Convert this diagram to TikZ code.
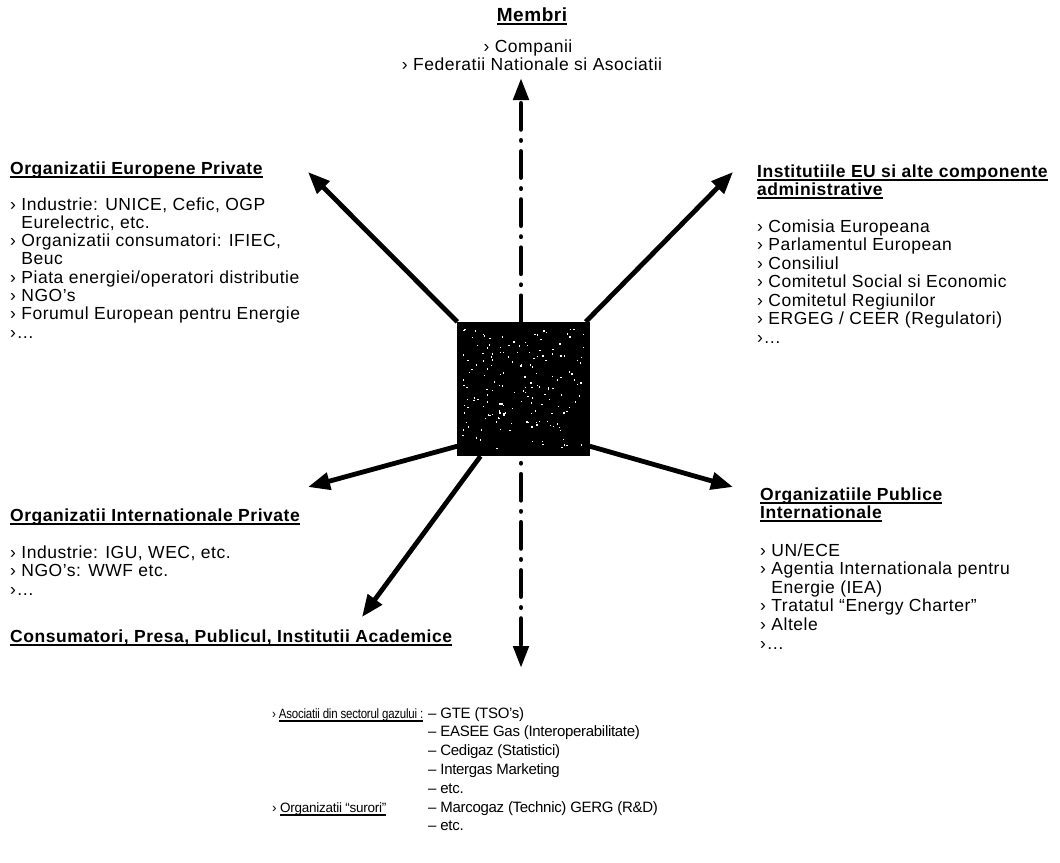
\documentclass[tikz,border=0pt]{standalone}
\usepackage{fontspec}
\usepackage{graphicx}
\setmainfont{Liberation Sans}[LetterSpace=3]
\usetikzlibrary{arrows.meta}
\newcommand\myul[1]{\setbox0\hbox{#1}\rlap{\rule[-3.6pt]{\wd0}{1.7pt}}\box0}
\tikzset{
  txt/.style={font=\fontsize{17.5}{18.5}\selectfont, inner sep=0pt, anchor=base west},
  hd/.style={txt, font=\fontsize{17.5}{18.5}\selectfont\bfseries},
  sm/.style={txt, font=\fontsize{15}{18.5}\selectfont\addfontfeature{LetterSpace=-2}},
  smlab/.style={txt, font=\fontsize{13.5}{18.5}\selectfont\addfontfeature{LetterSpace=-2}},
  conn/.style={line width=4.8pt, -{Triangle[length=22pt,width=17pt]}},
  vconn/.style={line width=4.8pt, line cap=round, dash pattern=on 26pt off 11pt on 0.1pt off 11pt,
    -{Triangle[length=22pt,width=15pt]}},
  sqbox/.style={fill=black, draw=none, minimum width=132pt, minimum height=134pt, inner sep=0pt}
}
\begin{document}
\begin{tikzpicture}[x=1pt,y=-1pt]
\useasboundingbox (0,0) rectangle (1060,862);
\fill[white] (0,0) rectangle (1060,862);

% centre square
\node[sqbox] (sq) at (523.5,389) {};

% free tips
\coordinate (tN) at (521,78);
\coordinate (tS) at (521,668);
\coordinate (tNW) at (308,172);
\coordinate (tNE) at (733,172);
\coordinate (tW) at (308,487);
\coordinate (tSW) at (362,617);
\coordinate (tSE) at (733,487);

% connectors
\draw[vconn] (tN |- sq.north) -- (tN);
\draw[vconn, dash phase=30pt] (tS |- sq.south) -- (tS);
\draw[conn] (sq.north west) -- (tNW);
\draw[conn] ([xshift=-4pt]sq.north east) -- (tNE);
\draw[conn] ([yshift=10pt]sq.south west) -- (tW);
\draw[conn] ([xshift=-43pt]sq.south) -- (tSW);
\draw[conn] ([yshift=10pt]sq.south east) -- (tSE);

% redraw square on top, with light speckles
\fill[black] (sq.north west) rectangle (sq.south east);
\pgfmathsetseed{11}
\foreach \k in {1,...,170} {
  \pgfmathsetmacro\rx{462+122*rnd}
  \pgfmathsetmacro\ry{328+122*rnd}
  \fill[white] (\rx,\ry) rectangle ++(1.4,1.4);
}

% Membri
\node[hd, anchor=base, font=\fontsize{19}{19}\selectfont\bfseries] (mem) at (532,21) {\myul{Membri}};
\node[txt, anchor=base] (mem1) at (528,52) {› Companii};
\node[txt, anchor=base] (mem2) at (532,70) {› Federatii Nationale si Asociatii};

% Organizatii Europene Private
\node[hd] (hEP) at (10,174) {\myul{Organizatii Europene Private}};
\foreach \t [count=\i] in {{› Industrie: UNICE, Cefic, OGP},{\phantom{› }Eurelectric, etc.},
  {› Organizatii consumatori: IFIEC,},{\phantom{› }Beuc},{› Piata energiei/operatori distributie},
  {› NGO’s},{› Forumul European pentru Energie},{›…}}
  \node[txt] (ep\i) at (10,{210+18.3*(\i-1)}) {\t};

% Institutiile EU
\node[hd] (hIE1) at (757,177) {\myul{Institutiile EU si alte componente}};
\node[hd] (hIE2) at (757,195) {\myul{administrative}};
\foreach \t [count=\i] in {{› Comisia Europeana},{› Parlamentul European},{› Consiliul},
  {› Comitetul Social si Economic},{› Comitetul Regiunilor},{› ERGEG / CEER (Regulatori)},{›…}}
  \node[txt] (ie\i) at (757,{232+18.5*(\i-1)}) {\t};

% Organizatii Internationale Private
\node[hd] (hIP) at (10,521) {\myul{Organizatii Internationale Private}};
\foreach \t [count=\i] in {{› Industrie: IGU, WEC, etc.},{› NGO’s: WWF etc.},{›…}}
  \node[txt] (ip\i) at (10,{558+18.8*(\i-1)}) {\t};

% Consumatori
\node[hd] (hCo) at (10,642) {\myul{Consumatori, Presa, Publicul, Institutii Academice}};

% Organizatiile Publice Internationale
\node[hd] (hPI1) at (760,500) {\myul{Organizatiile Publice}};
\node[hd] (hPI2) at (760,518) {\myul{Internationale}};
\foreach \t [count=\i] in {{› UN/ECE},{› Agentia Internationala pentru},{\phantom{› }Energie (IEA)},
  {› Tratatul “Energy Charter”},{› Altele},{›…}}
  \node[txt] (pi\i) at (760,{556+18.6*(\i-1)}) {\t};

% bottom block
\node[smlab] (bA) at (272,718) {\scalebox{0.85}[1]{› \myul{Asociatii din sectorul gazului :}}};
\node[smlab] (bO) at (272,812) {› \myul{Organizatii “surori”}};
\foreach \t [count=\i] in {{– GTE (TSO’s)},{– EASEE Gas (Interoperabilitate)},{– Cedigaz (Statistici)},
  {– Intergas Marketing},{– etc.},{– Marcogaz (Technic) GERG (R\&D)},{– etc.}}
  \node[sm] (bl\i) at (428,{718+18.8*(\i-1)}) {\t};
\end{tikzpicture}
\end{document}
